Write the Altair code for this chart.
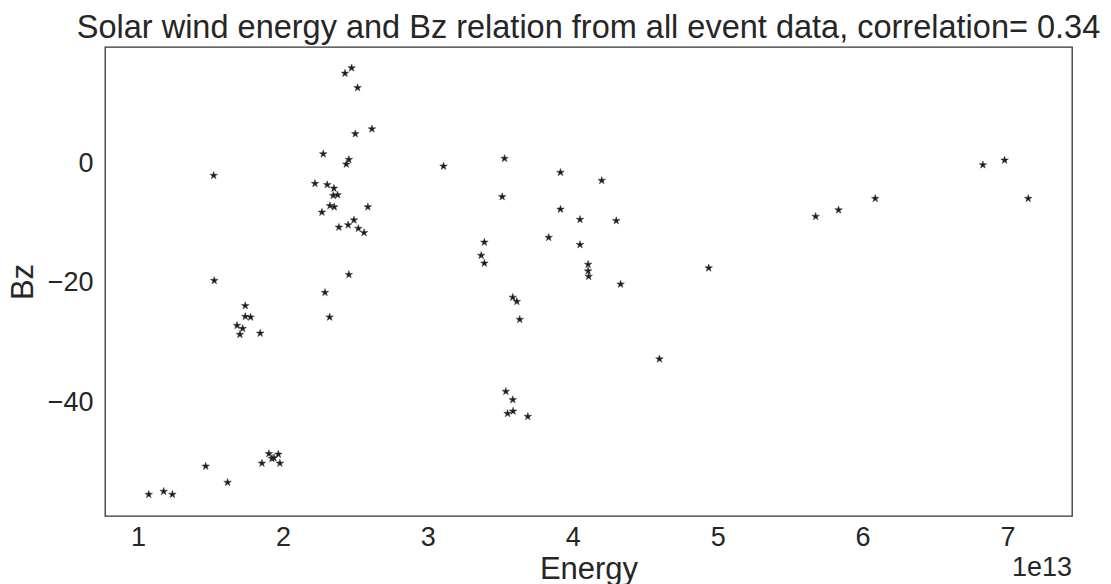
import altair as alt
import pandas as pd

# Solar wind energy (J) and Bz (nT) for every event
energy = [
    2.428e13, 2.474e13, 2.515e13, 2.614e13, 2.499e13, 2.278e13, 2.455e13, 2.437e13,
    1.522e13, 2.221e13, 2.306e13, 2.352e13, 2.347e13, 2.377e13, 2.324e13, 2.354e13,
    2.269e13, 2.386e13, 2.450e13, 2.586e13, 2.490e13, 2.520e13, 2.560e13, 1.526e13,
    2.455e13, 2.290e13, 2.322e13, 1.740e13, 1.740e13, 1.777e13, 1.683e13, 1.722e13,
    1.703e13, 1.843e13, 1.903e13, 1.968e13, 1.924e13, 1.938e13, 1.855e13, 1.979e13,
    1.467e13, 1.618e13, 1.074e13, 1.177e13, 1.237e13, 3.108e13, 3.529e13, 3.915e13,
    4.200e13, 3.513e13, 3.915e13, 4.050e13, 4.300e13, 3.834e13, 4.050e13, 3.390e13,
    3.368e13, 3.390e13, 4.106e13, 4.106e13, 4.110e13, 4.330e13, 3.586e13, 3.614e13,
    3.634e13, 4.598e13, 3.538e13, 3.586e13, 3.588e13, 3.550e13, 3.690e13, 4.938e13,
    5.676e13, 5.834e13, 6.087e13, 6.830e13, 6.980e13, 7.143e13,
]
bz = [
    15.0, 15.9, 12.6, 5.7, 4.9, 1.55, 0.6, -0.17,
    -2.05, -3.4, -3.6, -4.2, -5.4, -5.3, -7.1, -7.3,
    -8.2, -10.7, -10.3, -7.3, -9.5, -10.9, -11.6, -19.6,
    -18.6, -21.6, -25.7, -23.8, -25.6, -25.7, -27.1, -27.6,
    -28.6, -28.4, -48.5, -48.6, -49.3, -49.2, -50.1, -50.1,
    -50.6, -53.3, -55.3, -54.8, -55.3, -0.5, 0.78, -1.55,
    -2.9, -5.6, -7.7, -9.4, -9.6, -12.4, -13.6, -13.2,
    -15.4, -16.7, -16.9, -18.0, -18.9, -20.2, -22.4, -23.1,
    -26.1, -32.7, -38.1, -39.5, -41.4, -41.8, -42.3, -17.5,
    -8.9, -7.8, -5.9, -0.28, 0.5, -5.9,
]

x_ticks = [1e13, 2e13, 3e13, 4e13, 5e13, 6e13, 7e13]
y_ticks = [0, -20, -40]

title_text = "Solar wind energy and Bz relation from all event data, correlation= 0.34"

df = pd.DataFrame({"Energy": energy, "Bz": bz})

FONT = "Liberation Sans"
TXT = "#262626"
W, H = 967, 469

# five-pointed star marker
STAR = ("M0,-1L0.2245,-0.309L0.951,-0.309L0.363,0.118L0.588,0.809L0,0.382"
        "L-0.588,0.809L-0.363,0.118L-0.951,-0.309L-0.2245,-0.309Z")

points = alt.Chart(df).mark_point(
    shape=STAR, filled=True, size=64, color="#1c1c1c", opacity=1,
    stroke="#3a3a3a", strokeWidth=0.5,
).encode(
    x=alt.X("Energy:Q",
            scale=alt.Scale(domain=[0.772e13, 7.445e13], nice=False, zero=False),
            axis=alt.Axis(values=x_ticks, labelExpr="format(datum.value / 1e13, 'd')",
                          title="Energy", labelPadding=8, titlePadding=4)),
    y=alt.Y("Bz:Q",
            scale=alt.Scale(domain=[-58.9, 19.4], nice=False, zero=False),
            axis=alt.Axis(values=y_ticks, labelExpr="replace(format(datum.value, 'd'), '-', '\u2212')",
                          title="Bz", labelPadding=12, titlePadding=8)),
)

title_mark = alt.Chart(pd.DataFrame({"t": [title_text]})).mark_text(
    font=FONT, fontSize=32.5, color=TXT, align="center", baseline="alphabetic",
).encode(text="t:N", x=alt.value(W / 2), y=alt.value(-9))

offset_mark = alt.Chart(pd.DataFrame({"t": ["1e13"]})).mark_text(
    font=FONT, fontSize=27, color=TXT, align="right", baseline="alphabetic",
).encode(text="t:N", x=alt.value(W), y=alt.value(H + 60))

chart = alt.layer(points, title_mark, offset_mark).properties(
    width=W, height=H,
    autosize=alt.AutoSizeParams(type="none"),
    padding={"left": 105, "top": 47, "right": 39, "bottom": 68},
    background="white",
).configure_view(
    stroke="#333333", strokeWidth=1.3, fill="white",
).configure_axis(
    domain=False, ticks=False, grid=False,
    labelFont=FONT, labelFontSize=27, labelColor=TXT,
    titleFont=FONT, titleFontSize=31, titleColor=TXT, titleFontWeight="normal",
)

chart.save("out.html", embed_options={"renderer": "svg", "actions": False})
